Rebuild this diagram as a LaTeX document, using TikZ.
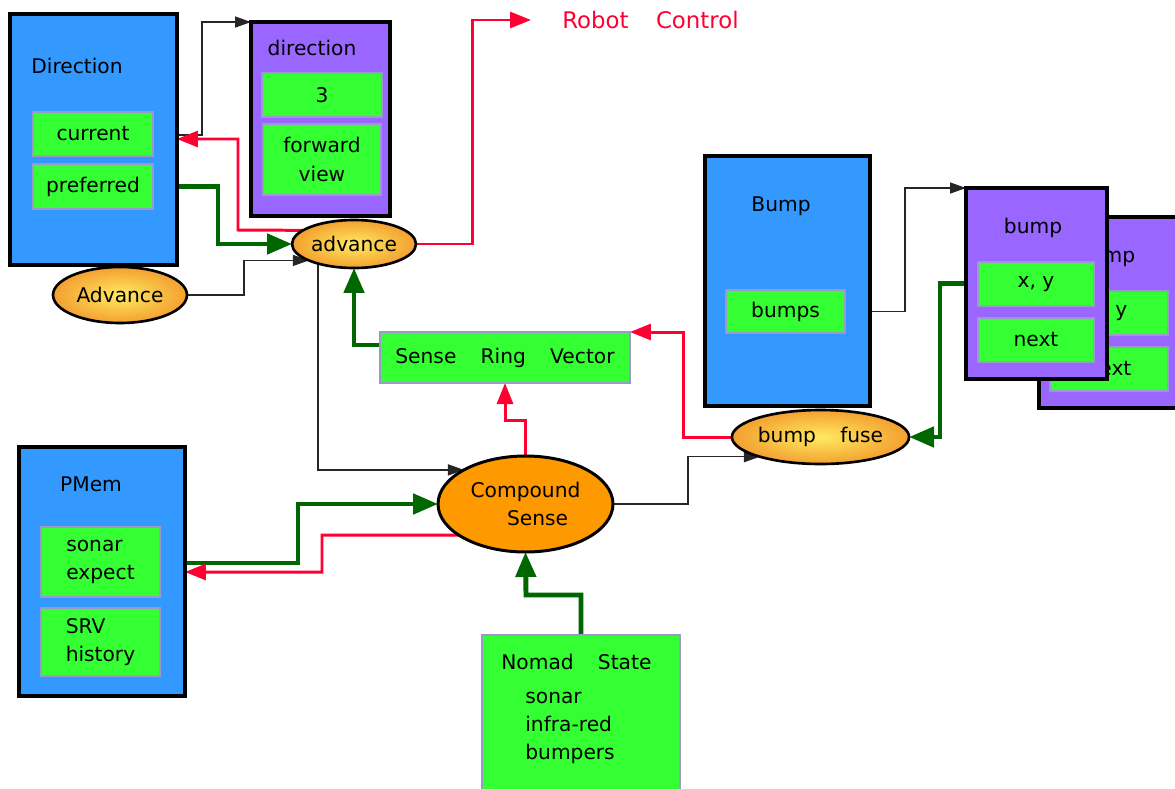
\documentclass[tikz,border=0pt]{standalone}
\usepackage{fontspec}
\setmainfont{DejaVu Sans}
\usepackage{xcolor}
\definecolor{modblue}{HTML}{3399FF}
\definecolor{instpurple}{HTML}{9966FF}
\definecolor{slotgreen}{HTML}{33FF33}
\definecolor{slotedge}{HTML}{9999CC}
\definecolor{opfill}{HTML}{FF9900}
\definecolor{opyellow}{HTML}{FFEA60}
\definecolor{opedge}{HTML}{F3A030}
\definecolor{ctlred}{HTML}{FF0033}
\definecolor{flowgreen}{HTML}{006600}
\usetikzlibrary{positioning,arrows.meta,shapes.geometric,backgrounds}
\newcommand{\dgfont}{\fontsize{11.5}{16}\selectfont}
\newcommand{\gap}{\hspace{1.2em}}
\tikzset{
  mbox/.style ={rectangle, draw=black, line width=1.8pt, fill=modblue,
                inner sep=0pt, outer sep=0pt},
  ibox/.style ={mbox, fill=instpurple},
  slot/.style ={rectangle, draw=slotedge, line width=1.6pt, fill=slotgreen,
                inner sep=0pt, outer sep=0pt, align=center, font=\dgfont},
  op/.style   ={ellipse, draw=black, line width=1.5pt, inner sep=0pt, outer sep=0pt,
                shade, inner color=opyellow, outer color=opedge, font=\dgfont},
  lab/.style  ={font=\dgfont, inner sep=0pt},
  arr/.style  ={-{Triangle[length=0.32cm,width=0.22cm]}, line width=0.85pt, color=black!85},
  rarr/.style ={-{Triangle[length=0.42cm,width=0.32cm]}, line width=1.7pt, color=ctlred},
  garr/.style ={-{Triangle[length=0.5cm,width=0.4cm]}, line width=2.8pt, color=flowgreen},
}

\begin{document}
\begin{tikzpicture}[x=0.02cm, y=-0.02cm]
  \useasboundingbox (0,0) rectangle (1175,788);
  \clip (0,0) rectangle (1175,788);

  % Direction module and its instance
  \node[mbox, minimum width=3.34cm, minimum height=5.02cm] (dir) at (93.5,139.5) {};
  \node[lab] at (77,66) {Direction};
  \node[slot, minimum width=2.4cm, minimum height=0.88cm] (cur) at (93,134) {current};
  \node[slot, minimum width=2.4cm, minimum height=0.9cm, below=0.16cm of cur] (pref) {preferred};

  \node[ibox, minimum width=2.78cm, minimum height=3.88cm] (dirinst) at (320.5,119) {};
  \node[lab] at (312,48) {direction};
  \node[slot, minimum width=2.4cm, minimum height=0.88cm] (three) at (322,95) {3};
  \node[slot, minimum width=2.36cm, minimum height=1.42cm, below=0.14cm of three] (fwd) {forward\\view};

  \node[op, minimum width=2.48cm, minimum height=0.96cm] (advop) at (354,244) {advance};
  \node[op, minimum width=2.68cm, minimum height=1.12cm] (advbeh) at (120,295) {Advance};
  \node[lab, font=\fontsize{13}{16}\selectfont, text=ctlred, anchor=west] (robot) at (562,20) {Robot\gap Control};

  \node[slot, minimum width=5.0cm, minimum height=1.02cm] (srv) at (505,357.5) {Sense\gap Ring\gap Vector};
  \node[ellipse, draw=black, line width=1.7pt, fill=opfill, inner sep=0pt, outer sep=0pt,
        minimum width=3.5cm, minimum height=1.92cm, align=center, font=\dgfont]
        (compound) at (525.5,504) {Compound\\\hspace{1.2em}Sense};

  % Bump module and its instances
  \node[mbox, minimum width=3.3cm, minimum height=5.0cm] (bump) at (787.5,281) {};
  \node[lab] at (781,206) {Bump};
  \node[slot, minimum width=2.38cm, minimum height=0.86cm] (bumps) at (785.5,311.5) {bumps};

  \node[ibox, minimum width=2.92cm, minimum height=3.82cm] (bumpb) at (1112,312.5) {};
  \node[lab] at (1106,257) {bump};
  \node[slot, minimum width=2.36cm, minimum height=0.88cm] (xyb) at (1109,313) {x, y};
  \node[slot, minimum width=2.36cm, minimum height=0.88cm, below=0.24cm of xyb] (nextb) {next};

  \node[ibox, minimum width=2.82cm, minimum height=3.82cm] (bumpa) at (1036.5,283.5) {};
  \node[lab] at (1033,228) {bump};
  \node[slot, minimum width=2.32cm, minimum height=0.88cm] (xya) at (1036,284) {x, y};
  \node[slot, minimum width=2.32cm, minimum height=0.88cm, below=0.24cm of xya] (nexta) {next};

  \node[op, minimum width=3.3cm, minimum height=1.08cm] (fuse) at (820.5,437) {bump\gap fuse};

  % PMem and Nomad State
  \node[mbox, minimum width=3.32cm, minimum height=4.98cm] (pmem) at (102,571.5) {};
  \node[lab] at (91,484) {PMem};
  \node[slot, minimum width=2.38cm, minimum height=1.4cm, align=left] (sonexp) at (100.5,562) {sonar\\expect};
  \node[slot, minimum width=2.38cm, minimum height=1.36cm, align=left, below=0.22cm of sonexp] (srvhist) {SRV\\history};

  \node[slot, minimum width=3.96cm, minimum height=3.1cm] (nomad) at (581,712.5) {};
  \node[lab, anchor=west] at (501,662) {Nomad\gap State};
  \node[lab, anchor=west, align=left] at (525,728) {sonar\\infra-red\\bumpers};

  \begin{scope}[on background layer]
    \draw[arr]  (dir.east |- 0,135) -- (202,135) |- (dirinst.north west);
    \draw[rarr] (advop.165) -- (238,230) |- (dir.east |- 0,139);
    \draw[garr] (dir.east |- pref) -- (pref -| 218,0) |- (advop.west);
    \draw[arr]  (advbeh.east) -- (244,295) |- (advop.200);
    \draw[rarr, shorten >=0.62cm] (advop.east) -- (472,244) |- (robot.west);
    \draw[arr]  (advop.center -| 318,0) |- (compound.151);
    \draw[garr] (srv.west |- 0,345) -| (advop.south);
    \draw[rarr] (compound.north) |- (505,420) -- (srv.south);
    \draw[arr]  (compound.east) -- (688,504) |- (fuse.198);
    \draw[rarr] (fuse.west) -- (683,437) |- (srv.north east);
    \draw[garr] (bumpa.west) -- (940,283.5) |- (fuse.east);
    \draw[arr]  (bump.east |- bumps) -- (905,311.5) |- (bumpa.north west);
    \draw[garr] (pmem.east |- 0,563) -- (298,563) |- (compound.west);
    \draw[rarr] (compound.205) -- (322,535) |- (pmem.east |- 0,572);
    \draw[garr] (nomad.north) |- (526,595) -- (compound.south);
  \end{scope}
\end{tikzpicture}
\end{document}
